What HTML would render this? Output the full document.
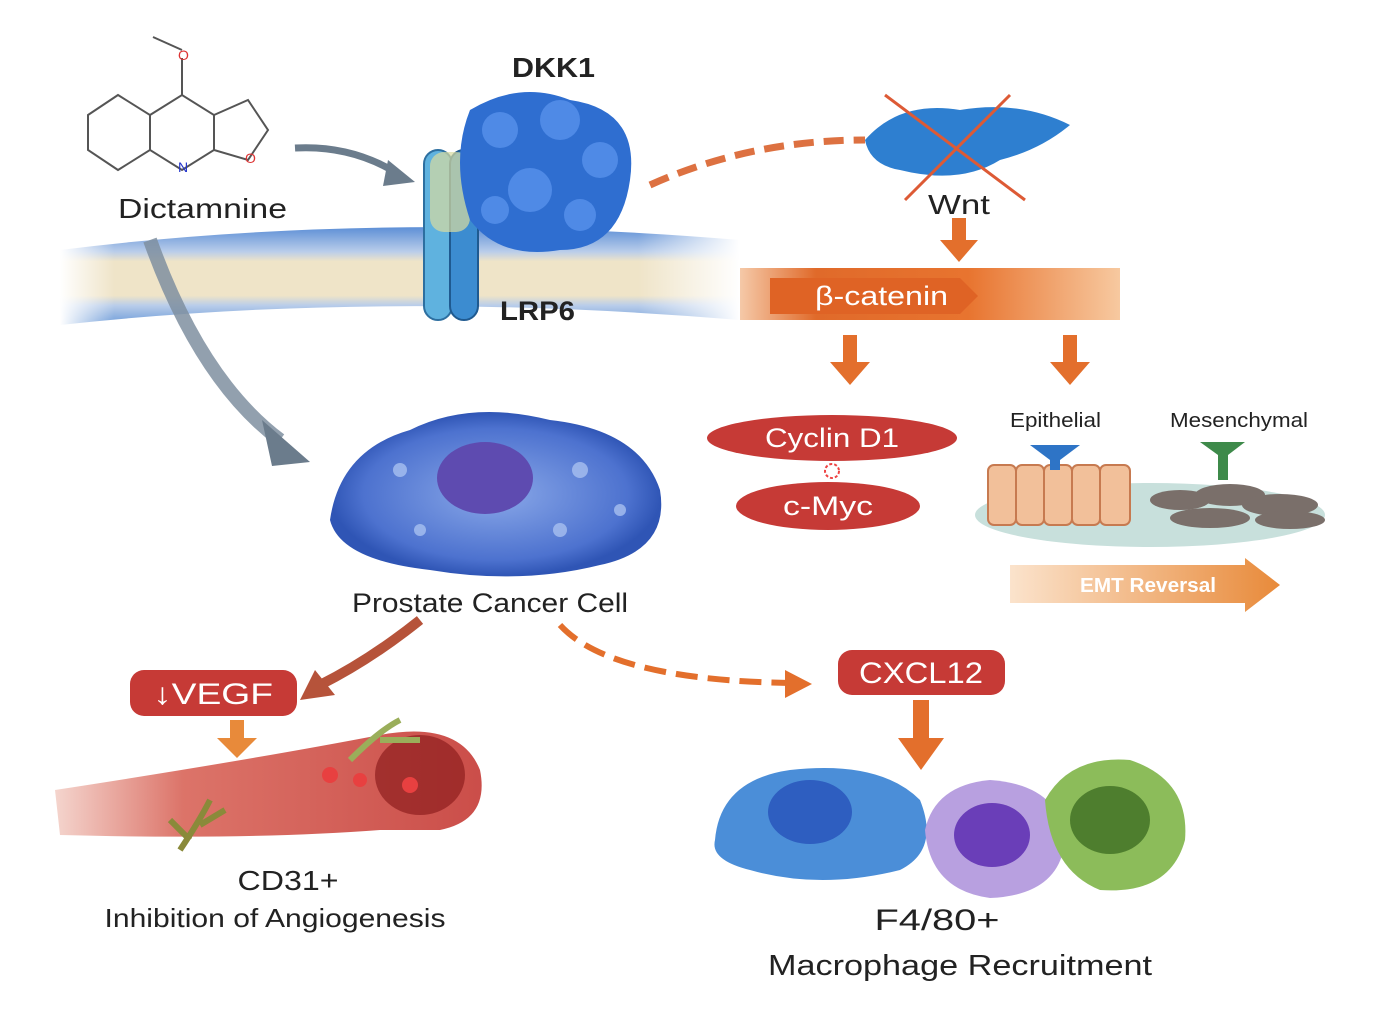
<!DOCTYPE html>
<html><head><meta charset="utf-8"><style>
body{margin:0;background:#fff;}
svg{display:block;font-family:"Liberation Sans",sans-serif;}
</style></head><body>
<svg width="1394" height="1024" viewBox="0 0 1394 1024" xmlns="http://www.w3.org/2000/svg">
<defs>
<linearGradient id="mem" x1="0" y1="0" x2="0" y2="1">
<stop offset="0" stop-color="#5d8fd6"/><stop offset="0.25" stop-color="#b9cdea"/><stop offset="0.35" stop-color="#efe4c8"/><stop offset="0.7" stop-color="#efe4c8"/><stop offset="0.8" stop-color="#b9cdea"/><stop offset="1" stop-color="#6b9ad8"/></linearGradient>
<linearGradient id="memfade" x1="0" x2="1"><stop offset="0" stop-color="#fff" stop-opacity="1"/><stop offset="0.08" stop-color="#fff" stop-opacity="0"/><stop offset="0.85" stop-color="#fff" stop-opacity="0"/><stop offset="1" stop-color="#fff" stop-opacity="1"/></linearGradient>
<linearGradient id="bcat" x1="0" x2="1"><stop offset="0" stop-color="#f5c9a8"/><stop offset="0.2" stop-color="#e06a2a"/><stop offset="0.6" stop-color="#e8742f"/><stop offset="1" stop-color="#f7c9a0"/></linearGradient>
<linearGradient id="emt" x1="0" x2="1"><stop offset="0" stop-color="#fbe3cc"/><stop offset="1" stop-color="#e88a3a"/></linearGradient>
<radialGradient id="cell" cx="0.5" cy="0.5" r="0.5"><stop offset="0" stop-color="#8aa8e8"/><stop offset="0.8" stop-color="#4d72cf"/><stop offset="1" stop-color="#2f55b5"/></radialGradient>
<linearGradient id="vessel" x1="0" x2="1"><stop offset="0" stop-color="#f3d0c8"/><stop offset="0.3" stop-color="#d86458"/><stop offset="1" stop-color="#c53a35"/></linearGradient>
</defs>

<!-- membrane -->
<path d="M60,250 Q380,210 740,240 L740,320 Q380,290 60,325 Z" fill="url(#mem)"/>
<path d="M60,235 Q380,195 740,225 L740,335 Q380,305 60,340 Z" fill="url(#memfade)"/>

<!-- molecule -->
<g fill="none" stroke="#555" stroke-width="2">
<polygon points="88,115 118,95 150,115 150,150 118,170 88,150"/>
<polygon points="150,115 182,95 214,115 214,150 182,170 150,150"/>
<polygon points="214,115 248,100 268,130 248,160 214,150"/>
<line x1="182" y1="95" x2="182" y2="58"/><line x1="182" y1="50" x2="153" y2="37"/>
</g>
<text x="178" y="60" font-size="14" fill="#d33">O</text>
<text x="178" y="172" font-size="14" fill="#23c">N</text>
<text x="245" y="163" font-size="14" fill="#d33">O</text>
<text x="118" y="218" font-size="28" fill="#222" textLength="169" lengthAdjust="spacingAndGlyphs">Dictamnine</text>

<!-- grey arrows -->
<path d="M295,148 Q350,145 395,172" stroke="#6b7c8c" stroke-width="7" fill="none"/>
<polygon points="388,160 415,182 383,186" fill="#6b7c8c"/>
<path d="M150,240 Q200,380 280,440" stroke="#7f8fa0" stroke-width="14" fill="none" opacity="0.85"/>
<polygon points="262,420 310,462 272,466" fill="#6b7c8c"/>

<!-- DKK1 / LRP6 -->
<text x="512" y="77" font-size="28" font-weight="bold" fill="#222" textLength="83" lengthAdjust="spacingAndGlyphs">DKK1</text>
<rect x="424" y="150" width="28" height="170" rx="14" fill="#5fb2df" stroke="#2d6fa0" stroke-width="2"/>
<rect x="450" y="150" width="28" height="170" rx="14" fill="#3c8cd0" stroke="#1f5a90" stroke-width="2"/>
<rect x="430" y="152" width="40" height="80" rx="14" fill="#d8dba0" opacity="0.7"/>
<path d="M470,110 Q520,80 570,100 Q640,110 630,180 Q620,250 560,250 Q500,260 470,220 Q450,160 470,110Z" fill="#2f6ed0"/>
<g fill="#4f8ae6"><circle cx="500" cy="130" r="18"/><circle cx="560" cy="120" r="20"/><circle cx="600" cy="160" r="18"/><circle cx="530" cy="190" r="22"/><circle cx="580" cy="215" r="16"/><circle cx="495" cy="210" r="14"/></g>
<text x="500" y="320" font-size="27" font-weight="bold" fill="#222" textLength="75" lengthAdjust="spacingAndGlyphs">LRP6</text>

<!-- dashed to Wnt -->
<path d="M650,185 Q750,140 865,140" stroke="#d9622c" stroke-width="7" fill="none" stroke-dasharray="20,10" opacity="0.9"/>
<!-- Wnt -->
<path d="M865,140 Q900,100 960,110 Q1020,100 1070,125 Q1040,150 1000,160 Q960,185 900,170 Q870,165 865,140Z" fill="#2e7fd0"/>
<line x1="885" y1="95" x2="1025" y2="200" stroke="#dd5a35" stroke-width="3"/>
<line x1="1010" y1="95" x2="905" y2="200" stroke="#dd5a35" stroke-width="3"/>
<text x="928" y="214" font-size="28" fill="#222" textLength="62" lengthAdjust="spacingAndGlyphs">Wnt</text>
<rect x="952" y="218" width="14" height="24" fill="#e36f2c"/><polygon points="940,240 978,240 959,262" fill="#e36f2c"/>

<!-- beta-catenin -->
<path d="M740,268 L1120,268 L1120,320 L740,320 Z" fill="url(#bcat)"/>
<polygon points="770,278 960,278 978,296 960,314 770,314" fill="#df6325"/>
<text x="815" y="305" font-size="27" fill="#fff" textLength="133" lengthAdjust="spacingAndGlyphs">β-catenin</text>
<rect x="843" y="335" width="14" height="30" fill="#e36f2c"/><polygon points="830,362 870,362 850,385" fill="#e36f2c"/>
<rect x="1063" y="335" width="14" height="30" fill="#e36f2c"/><polygon points="1050,362 1090,362 1070,385" fill="#e36f2c"/>

<!-- Cyclin / Myc -->
<ellipse cx="832" cy="438" rx="125" ry="23" fill="#c63a36"/>
<text x="832" y="447" font-size="27" fill="#fff" text-anchor="middle" textLength="134" lengthAdjust="spacingAndGlyphs">Cyclin D1</text>
<circle cx="832" cy="471" r="7" fill="none" stroke="#e44" stroke-width="2" stroke-dasharray="3,2"/>
<ellipse cx="828" cy="506" rx="92" ry="24" fill="#c63a36"/>
<text x="828" y="515" font-size="27" fill="#fff" text-anchor="middle" textLength="90" lengthAdjust="spacingAndGlyphs">c-Myc</text>

<!-- EMT -->
<text x="1010" y="427" font-size="20" fill="#222" textLength="91" lengthAdjust="spacingAndGlyphs">Epithelial</text>
<text x="1170" y="427" font-size="20" fill="#222" textLength="138" lengthAdjust="spacingAndGlyphs">Mesenchymal</text>
<ellipse cx="1150" cy="515" rx="175" ry="32" fill="#c8e0dc"/>
<g fill="#f2c09a" stroke="#c77a50" stroke-width="2">
<rect x="988" y="465" width="28" height="60" rx="6"/><rect x="1016" y="465" width="28" height="60" rx="6"/><rect x="1044" y="465" width="28" height="60" rx="6"/><rect x="1072" y="465" width="28" height="60" rx="6"/><rect x="1100" y="465" width="30" height="60" rx="6"/></g>
<path d="M1030,445 L1080,445 L1060,460 L1060,470 L1050,470 L1050,460Z" fill="#2e74c6"/>
<path d="M1200,442 L1245,442 L1228,455 L1228,480 L1218,480 L1218,455Z" fill="#3e8a4a"/>
<g fill="#7a6f6a"><ellipse cx="1180" cy="500" rx="30" ry="10"/><ellipse cx="1230" cy="495" rx="35" ry="11"/><ellipse cx="1280" cy="505" rx="38" ry="11"/><ellipse cx="1210" cy="518" rx="40" ry="10"/><ellipse cx="1290" cy="520" rx="35" ry="9"/></g>
<polygon points="1010,565 1245,565 1245,558 1280,585 1245,612 1245,603 1010,603" fill="url(#emt)"/>
<text x="1148" y="592" font-size="20" fill="#fff" text-anchor="middle" font-weight="bold" textLength="136" lengthAdjust="spacingAndGlyphs">EMT Reversal</text>

<!-- cancer cell -->
<path d="M330,520 Q340,450 410,430 Q470,400 550,420 Q640,430 660,490 Q670,550 600,565 Q520,585 430,570 Q340,560 330,520Z" fill="url(#cell)"/>
<ellipse cx="485" cy="478" rx="48" ry="36" fill="#5e4bb0"/>
<g fill="#a8c0f0" opacity="0.8"><circle cx="400" cy="470" r="7"/><circle cx="580" cy="470" r="8"/><circle cx="560" cy="530" r="7"/><circle cx="420" cy="530" r="6"/><circle cx="620" cy="510" r="6"/></g>
<text x="490" y="612" font-size="27" fill="#222" text-anchor="middle" textLength="276" lengthAdjust="spacingAndGlyphs">Prostate Cancer Cell</text>

<!-- VEGF branch -->
<path d="M420,620 Q370,660 320,685" stroke="#b6533a" stroke-width="10" fill="none"/>
<polygon points="300,700 315,670 335,695" fill="#b6533a"/>
<rect x="130" y="670" width="167" height="46" rx="14" fill="#c63a36"/>
<text x="213" y="704" font-size="30" fill="#fff" text-anchor="middle" textLength="120" lengthAdjust="spacingAndGlyphs">↓VEGF</text>
<rect x="230" y="720" width="14" height="20" fill="#e88a3a"/><polygon points="217,738 257,738 237,758" fill="#e88a3a"/>
<path d="M55,790 Q250,760 380,735 Q460,720 480,770 Q490,820 440,830 L380,830 Q250,840 60,835 Z" fill="url(#vessel)" opacity="0.9"/>
<ellipse cx="420" cy="775" rx="45" ry="40" fill="#8e1e1e" opacity="0.7"/>
<g fill="#e84040"><circle cx="330" cy="775" r="8"/><circle cx="360" cy="780" r="7"/><circle cx="410" cy="785" r="8"/></g>
<path d="M180,850 Q200,820 210,800 M200,825 L225,810 M190,840 L170,820" stroke="#8a8a3a" stroke-width="6" fill="none"/>
<path d="M350,760 Q380,730 400,720 M380,740 L420,740" stroke="#9aae5a" stroke-width="6" fill="none"/>
<text x="288" y="890" font-size="28" fill="#222" text-anchor="middle" textLength="101" lengthAdjust="spacingAndGlyphs">CD31+</text>
<text x="275" y="927" font-size="26" fill="#222" text-anchor="middle" textLength="341" lengthAdjust="spacingAndGlyphs">Inhibition of Angiogenesis</text>

<!-- CXCL12 branch -->
<path d="M560,625 Q610,680 790,683" stroke="#e36f2c" stroke-width="6" fill="none" stroke-dasharray="22,10"/>
<polygon points="785,670 812,684 785,698" fill="#e36f2c"/>
<rect x="838" y="650" width="167" height="45" rx="14" fill="#c63a36"/>
<text x="921" y="683" font-size="30" fill="#fff" text-anchor="middle" textLength="124" lengthAdjust="spacingAndGlyphs">CXCL12</text>
<rect x="913" y="700" width="16" height="40" fill="#e36f2c"/><polygon points="898,738 944,738 921,770" fill="#e36f2c"/>

<!-- macrophages -->
<path d="M715,840 Q720,780 790,770 Q880,760 920,800 Q940,850 900,870 Q820,890 750,870 Q710,860 715,840Z" fill="#4b8ed8"/>
<ellipse cx="810" cy="812" rx="42" ry="32" fill="#2e5ec0"/>
<path d="M925,830 Q935,785 990,780 Q1060,785 1065,840 Q1060,895 990,898 Q930,890 925,830Z" fill="#b8a0e0"/>
<ellipse cx="992" cy="835" rx="38" ry="32" fill="#6a3eb8"/>
<path d="M1045,800 Q1070,755 1130,760 Q1190,780 1185,840 Q1170,895 1100,890 Q1050,870 1045,800Z" fill="#8cbc5a"/>
<ellipse cx="1110" cy="820" rx="40" ry="34" fill="#4e7e2e"/>
<text x="937" y="930" font-size="30" fill="#222" text-anchor="middle" textLength="125" lengthAdjust="spacingAndGlyphs">F4/80+</text>
<text x="960" y="975" font-size="29" fill="#222" text-anchor="middle" textLength="384" lengthAdjust="spacingAndGlyphs">Macrophage Recruitment</text>
</svg>
</body></html>
